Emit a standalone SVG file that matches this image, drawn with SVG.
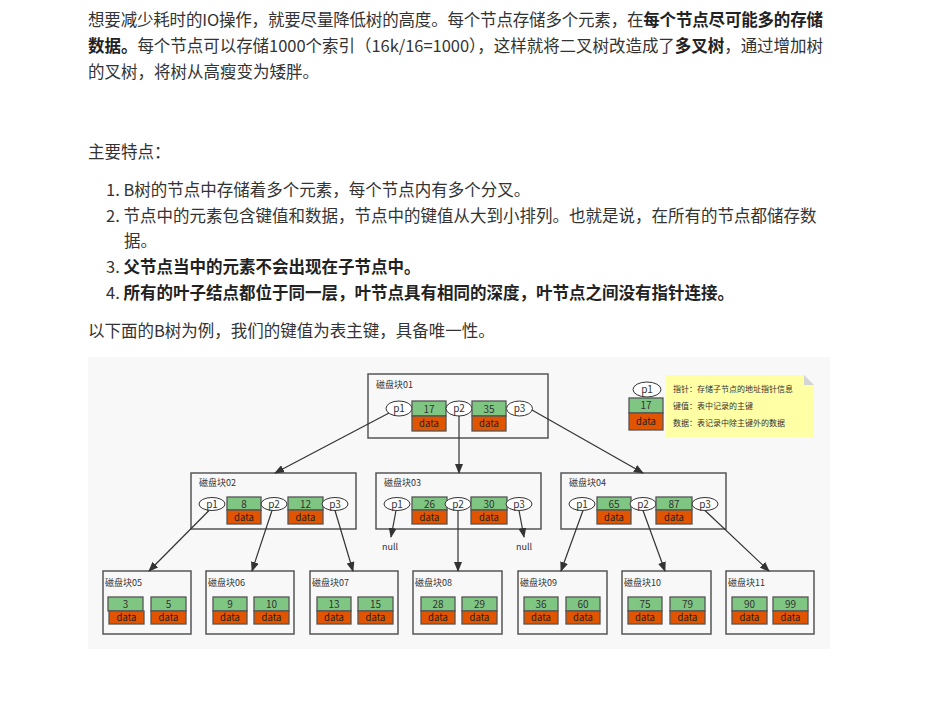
<svg xmlns="http://www.w3.org/2000/svg" width="926" height="708" viewBox="0 0 926 708">
<style>
.t{font-family:"Noto Sans CJK SC","Noto Sans",sans-serif;font-size:16.5px;fill:#333}
.b{font-weight:bold;fill:#222}
.d{font-family:"Noto Sans CJK SC","Noto Sans",sans-serif;fill:#333}
.lbl{font-size:9px}
.num{font-size:10px;text-anchor:middle}
.dat{font-size:9.5px;text-anchor:middle;fill:#222}
.box{fill:none;stroke:#555;stroke-width:1.5}
.g{fill:#80c683;stroke:#555;stroke-width:1.3}
.o{fill:#e25500;stroke:#555;stroke-width:1.3}
.p{fill:#fff;stroke:#333;stroke-width:1}
.pt{font-size:10px;text-anchor:middle}
.c{stroke:#333;stroke-width:1.2;fill:none;marker-end:url(#ah)}
.lg{font-size:8px}
</style>
<defs>
<marker id="ah" markerWidth="10" markerHeight="8" refX="9" refY="4" orient="auto" markerUnits="userSpaceOnUse">
<path d="M0,0 L10,4 L0,8 Z" fill="#333"/>
</marker>
</defs>
<rect width="926" height="708" fill="#fff"/>
<g id="text">
<text class="t" x="88" y="26" textLength="735" lengthAdjust="spacing">想要减少耗时的IO操作，就要尽量降低树的高度。每个节点存储多个元素，在<tspan class="b">每个节点尽可能多的存储</tspan></text>
<text class="t" x="88" y="52" textLength="735" lengthAdjust="spacing"><tspan class="b">数据。</tspan>每个节点可以存储1000个索引（16k/16=1000），这样就将二叉树改造成了<tspan class="b">多叉树</tspan>，通过增加树</text>
<text class="t" x="88" y="78">的叉树，将树从高瘦变为矮胖。</text>
<text class="t" x="88" y="158">主要特点：</text>
<text class="t" x="106" y="196">1. B树的节点中存储着多个元素，每个节点内有多个分叉。</text>
<text class="t" x="106" y="222">2. 节点中的元素包含键值和数据，节点中的键值从大到小排列。也就是说，在所有的节点都储存数</text>
<text class="t" x="124" y="247">据。</text>
<text class="t" x="106" y="273">3. <tspan class="b">父节点当中的元素不会出现在子节点中。</tspan></text>
<text class="t" x="106" y="299">4. <tspan class="b">所有的叶子结点都位于同一层，叶节点具有相同的深度，叶节点之间没有指针连接。</tspan></text>
<text class="t" x="88" y="337">以下面的B树为例，我们的键值为表主键，具备唯一性。</text>
</g>
<rect x="88" y="357" width="742" height="292" fill="#f8f8f8"/>
<g id="legend">
<ellipse class="p" cx="647" cy="389.5" rx="14" ry="7.5"/>
<text class="d pt" x="647" y="393">p1</text>
<rect class="g" x="629" y="398" width="34" height="15"/>
<text class="d num" x="646" y="409">17</text>
<rect class="o" x="629" y="413" width="34" height="17"/>
<text class="d dat" x="646" y="425">data</text>
<path d="M666,375 H804 L814,385 V437 H666 Z" fill="#ffffa6"/>
<path d="M804,375 V385 H814 Z" fill="#d4d4d4"/>
<text class="d lg" x="673" y="392">指针：存储子节点的地址指针信息</text>
<text class="d lg" x="673" y="409">键值：表中记录的主键</text>
<text class="d lg" x="673" y="426">数据：表记录中除主键外的数据</text>
</g>
<g id="block01">
<rect class="box" x="368" y="374" width="180" height="64"/>
<text class="d lbl" x="376" y="388">磁盘块01</text>
<ellipse class="p" cx="399" cy="408.5" rx="13" ry="7.5"/><text class="d pt" x="399" y="412">p1</text>
<rect class="g" x="412" y="401" width="34" height="15"/><text class="d num" x="429" y="412.5">17</text>
<rect class="o" x="412" y="416" width="34" height="15"/><text class="d dat" x="429" y="427">data</text>
<ellipse class="p" cx="459" cy="408.5" rx="13" ry="7.5"/><text class="d pt" x="459" y="412">p2</text>
<rect class="g" x="472" y="401" width="34" height="15"/><text class="d num" x="489" y="412.5">35</text>
<rect class="o" x="472" y="416" width="34" height="15"/><text class="d dat" x="489" y="427">data</text>
<ellipse class="p" cx="519.5" cy="408.5" rx="13" ry="7.5"/><text class="d pt" x="519.5" y="412">p3</text>
</g>
<g id="block02">
<rect class="box" x="191" y="473" width="165" height="56"/>
<text class="d lbl" x="199" y="486">磁盘块02</text>
<ellipse class="p" cx="212" cy="504" rx="13" ry="6.5"/><text class="d pt" x="212" y="507.5">p1</text>
<rect class="g" x="227" y="497" width="34" height="13"/><text class="d num" x="244" y="507.5">8</text>
<rect class="o" x="227" y="510" width="34" height="14"/><text class="d dat" x="244" y="520.5">data</text>
<ellipse class="p" cx="274" cy="504" rx="13" ry="6.5"/><text class="d pt" x="274" y="507.5">p2</text>
<rect class="g" x="288" y="497" width="35" height="13"/><text class="d num" x="305.5" y="507.5">12</text>
<rect class="o" x="288" y="510" width="35" height="14"/><text class="d dat" x="305.5" y="520.5">data</text>
<ellipse class="p" cx="335" cy="504" rx="13" ry="6.5"/><text class="d pt" x="335" y="507.5">p3</text>
</g>
<g id="block03">
<rect class="box" x="376" y="473" width="165" height="56"/>
<text class="d lbl" x="384" y="486">磁盘块03</text>
<ellipse class="p" cx="397" cy="504" rx="13" ry="6.5"/><text class="d pt" x="397" y="507.5">p1</text>
<rect class="g" x="412" y="497" width="35" height="13"/><text class="d num" x="429.5" y="507.5">26</text>
<rect class="o" x="412" y="510" width="35" height="14"/><text class="d dat" x="429.5" y="520.5">data</text>
<ellipse class="p" cx="458" cy="504" rx="13" ry="6.5"/><text class="d pt" x="458" y="507.5">p2</text>
<rect class="g" x="471" y="497" width="36" height="13"/><text class="d num" x="489" y="507.5">30</text>
<rect class="o" x="471" y="510" width="36" height="14"/><text class="d dat" x="489" y="520.5">data</text>
<ellipse class="p" cx="519" cy="504" rx="13" ry="6.5"/><text class="d pt" x="519" y="507.5">p3</text>
</g>
<g id="block04">
<rect class="box" x="561" y="473" width="165" height="56"/>
<text class="d lbl" x="569" y="486">磁盘块04</text>
<ellipse class="p" cx="582" cy="504" rx="13" ry="6.5"/><text class="d pt" x="582" y="507.5">p1</text>
<rect class="g" x="597" y="497" width="34" height="13"/><text class="d num" x="614" y="507.5">65</text>
<rect class="o" x="597" y="510" width="34" height="14"/><text class="d dat" x="614" y="520.5">data</text>
<ellipse class="p" cx="643" cy="504" rx="13" ry="6.5"/><text class="d pt" x="643" y="507.5">p2</text>
<rect class="g" x="656" y="497" width="36" height="13"/><text class="d num" x="674" y="507.5">87</text>
<rect class="o" x="656" y="510" width="36" height="14"/><text class="d dat" x="674" y="520.5">data</text>
<ellipse class="p" cx="705" cy="504" rx="13" ry="6.5"/><text class="d pt" x="705" y="507.5">p3</text>
</g>
<g id="block05">
<rect class="box" x="103" y="571" width="88" height="63"/>
<text class="d lbl" x="105" y="586">磁盘块05</text>
<rect class="g" x="108" y="597" width="35" height="14"/><text class="d num" x="125.5" y="608">3</text>
<rect class="o" x="109" y="611" width="35" height="13"/><text class="d dat" x="126.5" y="621">data</text>
<rect class="g" x="151" y="597" width="35" height="14"/><text class="d num" x="168.5" y="608">5</text>
<rect class="o" x="151" y="611" width="35" height="13"/><text class="d dat" x="168.5" y="621">data</text>
</g>
<g id="block06">
<rect class="box" x="206" y="571" width="88" height="63"/>
<text class="d lbl" x="208" y="586">磁盘块06</text>
<rect class="g" x="213" y="597" width="34" height="14"/><text class="d num" x="230" y="608">9</text>
<rect class="o" x="213" y="611" width="34" height="13"/><text class="d dat" x="230" y="621">data</text>
<rect class="g" x="254" y="597" width="35" height="14"/><text class="d num" x="271.5" y="608">10</text>
<rect class="o" x="254" y="611" width="35" height="13"/><text class="d dat" x="271.5" y="621">data</text>
</g>
<g id="block07">
<rect class="box" x="310" y="571" width="88" height="63"/>
<text class="d lbl" x="312" y="586">磁盘块07</text>
<rect class="g" x="317" y="597" width="34" height="14"/><text class="d num" x="334" y="608">13</text>
<rect class="o" x="317" y="611" width="34" height="13"/><text class="d dat" x="334" y="621">data</text>
<rect class="g" x="358" y="597" width="35" height="14"/><text class="d num" x="375.5" y="608">15</text>
<rect class="o" x="358" y="611" width="35" height="13"/><text class="d dat" x="375.5" y="621">data</text>
</g>
<g id="block08">
<rect class="box" x="413" y="571" width="89" height="63"/>
<text class="d lbl" x="415" y="586">磁盘块08</text>
<rect class="g" x="421" y="597" width="34" height="14"/><text class="d num" x="438" y="608">28</text>
<rect class="o" x="421" y="611" width="34" height="13"/><text class="d dat" x="438" y="621">data</text>
<rect class="g" x="462" y="597" width="35" height="14"/><text class="d num" x="479.5" y="608">29</text>
<rect class="o" x="462" y="611" width="35" height="13"/><text class="d dat" x="479.5" y="621">data</text>
</g>
<g id="block09">
<rect class="box" x="518" y="571" width="89" height="63"/>
<text class="d lbl" x="520" y="586">磁盘块09</text>
<rect class="g" x="524" y="597" width="34" height="14"/><text class="d num" x="541" y="608">36</text>
<rect class="o" x="524" y="611" width="34" height="13"/><text class="d dat" x="541" y="621">data</text>
<rect class="g" x="566" y="597" width="34" height="14"/><text class="d num" x="583" y="608">60</text>
<rect class="o" x="566" y="611" width="34" height="13"/><text class="d dat" x="583" y="621">data</text>
</g>
<g id="block10">
<rect class="box" x="622" y="571" width="89" height="63"/>
<text class="d lbl" x="624" y="586">磁盘块10</text>
<rect class="g" x="628" y="597" width="34" height="14"/><text class="d num" x="645" y="608">75</text>
<rect class="o" x="628" y="611" width="34" height="13"/><text class="d dat" x="645" y="621">data</text>
<rect class="g" x="670" y="597" width="35" height="14"/><text class="d num" x="687.5" y="608">79</text>
<rect class="o" x="670" y="611" width="35" height="13"/><text class="d dat" x="687.5" y="621">data</text>
</g>
<g id="block11">
<rect class="box" x="726" y="571" width="88" height="63"/>
<text class="d lbl" x="728" y="586">磁盘块11</text>
<rect class="g" x="732" y="597" width="35" height="14"/><text class="d num" x="749.5" y="608">90</text>
<rect class="o" x="732" y="611" width="35" height="13"/><text class="d dat" x="749.5" y="621">data</text>
<rect class="g" x="773" y="597" width="35" height="14"/><text class="d num" x="790.5" y="608">99</text>
<rect class="o" x="773" y="611" width="35" height="13"/><text class="d dat" x="790.5" y="621">data</text>
</g>
<g id="nulls">
<text class="d lbl" x="382" y="550">null</text>
<text class="d lbl" x="516" y="550">null</text>
</g>
<g id="connectors">
<path class="c" d="M389,413 L275,473"/>
<path class="c" d="M459,416 L459,473"/>
<path class="c" d="M532,410 L643,473"/>
<path class="c" d="M209,510.5 L149,571"/>
<path class="c" d="M272,510.5 L252,571"/>
<path class="c" d="M335,510.5 L353,571"/>
<path class="c" d="M396,510.5 L391,537"/>
<path class="c" d="M458,510.5 L458,571"/>
<path class="c" d="M519,510.5 L524,537"/>
<path class="c" d="M583,510.5 L561,571"/>
<path class="c" d="M643,510.5 L665,571"/>
<path class="c" d="M705,510.5 L769,571"/>
</g>
</svg>
